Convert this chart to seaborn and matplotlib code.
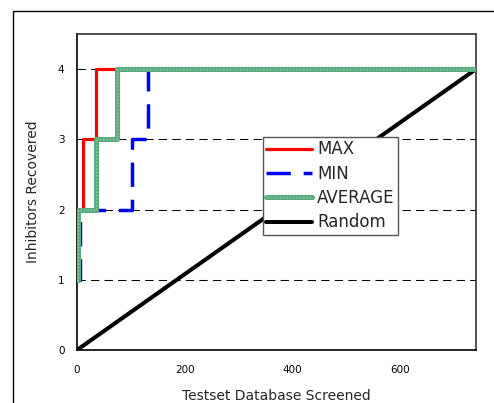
import matplotlib
matplotlib.use("Agg")
import matplotlib.pyplot as plt
import seaborn as sns
from matplotlib.patches import Rectangle

# Estilo
sns.set_theme(style="white")
plt.rcParams['font.family'] = ['DejaVu Sans']

# Datos (curvas escalonadas)
x_max = [0, 1, 11, 35, 740]
y_max = [1, 2, 3, 4, 4]
x_min = [0, 5, 102, 131, 740]
y_min = [1, 2, 3, 4, 4]
x_avg = [0, 2, 35, 74, 740]
y_avg = [1, 2, 3, 4, 4]
x_rand = [0, 740]
y_rand = [0, 4]
xticks = [0, 200, 400, 600]
yticks = [0, 1, 2, 3, 4]

fig = plt.figure(figsize=(4.94, 4.03), dpi=100)
ax = fig.add_axes([77 / 494, 1 - 350 / 403, 399 / 494, 316 / 403])

# Líneas de referencia horizontales
for yv in yticks[1:]:
    ax.axhline(yv, color='black', lw=0.75, dashes=(8, 5), zorder=1)

sns.lineplot(x=x_rand, y=y_rand, ax=ax, color='black', lw=2.9,
             label='Random', zorder=2)
sns.lineplot(x=x_min, y=y_min, ax=ax, color='#0000ff', lw=2.5,
             dashes=(7, 3.7), drawstyle='steps-post', label='MIN', zorder=3)
sns.lineplot(x=x_max, y=y_max, ax=ax, color='#ff0000', lw=2.3,
             drawstyle='steps-post', label='MAX', zorder=4)
# AVERAGE: línea verde gruesa con puntos claros encima
sns.lineplot(x=x_avg, y=y_avg, ax=ax, color='#5aab7e', lw=3.6,
             drawstyle='steps-post', label='AVERAGE', zorder=5)
sns.lineplot(x=x_avg, y=y_avg, ax=ax, color='#a3d9b8', lw=1.0,
             linestyle=(0, (0.8, 1.6)), drawstyle='steps-post',
             label='_avg_dots', zorder=6)

ax.set_xlim(0, 740)
ax.set_ylim(0, 4.5)
ax.set_xticks(xticks)
ax.set_yticks(yticks)
ax.tick_params(direction='in', length=4, width=1, colors='black',
               labelsize=7.5, pad=9)
ax.tick_params(axis='x', pad=11)
for s in ax.spines.values():
    s.set_color('#333333')
    s.set_linewidth(1.2)
ax.spines['left'].set_color('black')
ax.spines['bottom'].set_color('black')

ax.set_xlabel('Testset Database Screened', fontsize=10, labelpad=10)
ax.set_ylabel('Inhibitors Recovered', fontsize=10, labelpad=13)

handles, labels = ax.get_legend_handles_labels()
hmap = dict(zip(labels, handles))
dots = [l for l in ax.get_lines() if l.get_label() == '_avg_dots'][0]
orden = ['MAX', 'MIN', 'AVERAGE', 'Random']
hs = [hmap['MAX'], hmap['MIN'], (hmap['AVERAGE'], dots), hmap['Random']]
leg = ax.legend(hs, orden, loc='upper left',
                bbox_to_anchor=(0.466, 0.674), borderaxespad=0,
                fontsize=12, handlelength=2.75, handletextpad=0.3,
                labelspacing=0.38, borderpad=0.2, fancybox=False,
                framealpha=1, edgecolor='#555555')
leg.get_frame().set_linewidth(1)

# Marco exterior
fig.patches.append(Rectangle((13 / 494, -0.5), 2, 0.5 + 1 - 11 / 403,
                             transform=fig.transFigure, fill=False,
                             edgecolor='black', lw=1))

fig.savefig('out.png', dpi=100)
